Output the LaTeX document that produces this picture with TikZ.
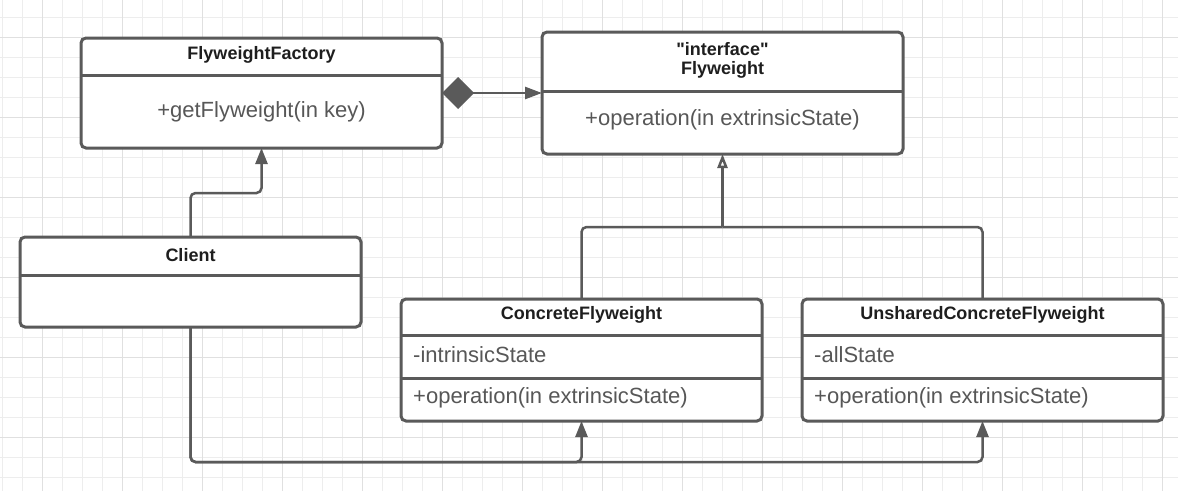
\documentclass[tikz,border=0pt]{standalone}
\usepackage{fontspec}
\setmainfont{Liberation Sans}[Ligatures=TeXOff]
\usetikzlibrary{arrows.meta}
\definecolor{lc}{HTML}{5A5A5A}
\definecolor{headc}{HTML}{1E1E1E}
\definecolor{memc}{HTML}{575757}
\definecolor{gminor}{HTML}{EDEDED}
\definecolor{gmajor}{HTML}{E0E0E0}
\tikzset{
  umlbox/.style={draw=lc, line width=3pt, rounded corners=5pt, fill=white, inner sep=0pt, outer sep=0pt, anchor=north west},
  divline/.style={draw=lc, line width=3pt},
  headtxt/.style={inner sep=0pt, text=headc, font=\fontsize{18pt}{20pt}\selectfont\bfseries},
  memtxt/.style={inner sep=0pt, text=memc, font=\fontsize{22pt}{24pt}\selectfont},
  conn/.style={draw=lc, line width=2.5pt, rounded corners=5pt},
  filltip/.style={-{Triangle[length=16pt,width=12pt]}},
}
\begin{document}
\begin{tikzpicture}[x=1pt,y=-1pt]
\useasboundingbox (0,0) rectangle (1178,491);
\fill[white] (0,0) rectangle (1178,491);
% grid
\foreach \x in {2,22,...,1178} \draw[gminor, line width=1pt] (\x,0) -- (\x,491);
\foreach \y in {17,37,...,491} \draw[gminor, line width=1pt] (0,\y) -- (1178,\y);
\foreach \x in {42,122,...,1178} \draw[gmajor, line width=1pt] (\x,0) -- (\x,491);
\foreach \y in {37,117,...,491} \draw[gmajor, line width=1pt] (0,\y) -- (1178,\y);

% FlyweightFactory
\node[umlbox, minimum width=361pt, minimum height=110pt] (ff) at (81,38) {};
\draw[divline] ([yshift=-37pt]ff.north west) -- ([yshift=-37pt]ff.north east);
\node[headtxt] (ffh) at ([yshift=-17pt]ff.north) {FlyweightFactory};
\node[memtxt] (ffm) at ([yshift=-74pt]ff.north) {+getFlyweight(in key)};

% Flyweight interface
\node[umlbox, minimum width=361pt, minimum height=122pt] (fw) at (542,32) {};
\draw[divline] ([yshift=-59pt]fw.north west) -- ([yshift=-59pt]fw.north east);
\node[headtxt] (fwh1) at ([yshift=-17pt]fw.north) {"interface"};
\node[headtxt] (fwh2) at ([yshift=-38pt]fw.north) {Flyweight};
\node[memtxt] (fwm) at ([yshift=-88pt]fw.north) {+operation(in extrinsicState)};

% Client
\node[umlbox, minimum width=341pt, minimum height=90pt] (cl) at (20,237) {};
\draw[divline] ([yshift=-38pt]cl.north west) -- ([yshift=-38pt]cl.north east);
\node[headtxt] (clh) at ([yshift=-18pt]cl.north) {Client};

% ConcreteFlyweight
\node[umlbox, minimum width=361pt, minimum height=122pt] (cf) at (401,299) {};
\draw[divline] ([yshift=-36pt]cf.north west) -- ([yshift=-36pt]cf.north east);
\draw[divline] ([yshift=-79pt]cf.north west) -- ([yshift=-79pt]cf.north east);
\node[headtxt] (cfh) at ([yshift=-16pt]cf.north) {ConcreteFlyweight};
\node[memtxt, anchor=west] (cfa) at ([xshift=12pt,yshift=-56pt]cf.north west) {-intrinsicState};
\node[memtxt, anchor=west] (cfo) at ([xshift=12pt,yshift=-99pt]cf.north west) {+operation(in extrinsicState)};

% UnsharedConcreteFlyweight
\node[umlbox, minimum width=361pt, minimum height=122pt] (uf) at (802,299) {};
\draw[divline] ([yshift=-36pt]uf.north west) -- ([yshift=-36pt]uf.north east);
\draw[divline] ([yshift=-79pt]uf.north west) -- ([yshift=-79pt]uf.north east);
\node[headtxt] (ufh) at ([yshift=-16pt]uf.north) {UnsharedConcreteFlyweight};
\node[memtxt, anchor=west] (ufa) at ([xshift=12pt,yshift=-56pt]uf.north west) {-allState};
\node[memtxt, anchor=west] (ufo) at ([xshift=12pt,yshift=-99pt]uf.north west) {+operation(in extrinsicState)};

% composition
\draw[conn, {Diamond[length=32pt,width=32pt,fill=lc]}-{Triangle[length=17pt,width=12pt]}, fill=lc] (ff.east) -- (fw.west);
% client -> factory
\draw[conn, filltip] (cl.north) -- ++(0,-44) -| (ff.south);
% inheritance
\coordinate (jn) at ([yshift=-73pt]fw.south);
\draw[conn] (cf.north) |- (jn);
\draw[conn] (uf.north) |- (jn);
\draw[conn, -{Triangle[open,length=14pt,width=10pt,fill=white]}] (jn) -- (fw.south);
% client -> concrete ones
\coordinate (bl) at ([yshift=-41pt]cf.south);
\draw[conn, filltip] (cl.south) |- (bl) -- (cf.south);
\draw[conn, filltip] (cl.south) |- (bl) -| (uf.south);
\end{tikzpicture}
\end{document}
